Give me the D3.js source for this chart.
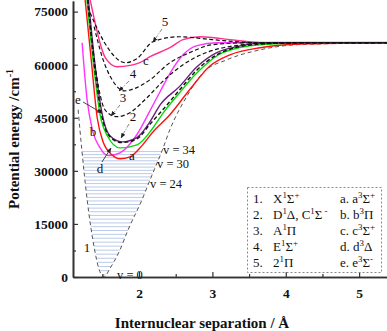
<!DOCTYPE html>
<html>
<head>
<meta charset="utf-8">
<script src="https://cdn.jsdelivr.net/npm/d3@7"></script>
<style>
body{margin:0;background:#fff}
svg{display:block}
text{font-family:"Liberation Serif","Times New Roman",serif}
</style>
</head>
<body>
<svg id="chart" width="387" height="331"></svg>
<script>
"use strict";
// potential energy curves, [r (Å), E (cm-1)]
const stateX = [[1.17,47260],[1.22,36000],[1.293,21800],[1.395,7640],[1.45,2500],[1.525,0],[1.60,2300],[1.74,7640],[1.85,13300],[2.04,21800],[2.15,27450],[2.32,36000],[2.42,41600],[2.65,51000],[2.87,57700],[3.20,61400],[3.65,64200],[4.2,65700],[5.4,66200]];
const state2 = [[1.30,78400],[1.39,60000],[1.49,45800],[1.60,39700],[1.76,38000],[1.97,39000],[2.15,43200],[2.33,47400],[2.55,52800],[2.79,58500],[3.06,62800],[3.33,64900],[3.8,66000],[4.5,66200],[5.4,66200]];
const state3 = [[1.30,78400],[1.40,60000],[1.50,49000],[1.58,46300],[1.70,45300],[1.88,46500],[2.10,50500],[2.35,55800],[2.60,60000],[2.90,63300],[3.25,65200],[3.8,66100],[5.4,66200]];
const state4 = [[1.388,70750],[1.497,62260],[1.633,55750],[1.80,52600],[1.93,53200],[2.15,55750],[2.42,60560],[2.69,63400],[3.0,65650],[3.5,66200],[5.4,66200]];
const state5 = [[1.333,74700],[1.456,69050],[1.592,64240],[1.81,60560],[1.97,61700],[2.19,66500],[2.55,67900],[3.0,67070],[3.65,66200],[5.4,66200]];
const stateA = [[1.265,78400],[1.35,61000],[1.43,45000],[1.51,38200],[1.633,34500],[1.741,33400],[1.878,33960],[2.014,36500],[2.19,41000],[2.42,45850],[2.70,53200],[2.97,59700],[3.24,62800],[3.65,64800],[4.3,65900],[5.4,66200]];
const stateB = [[1.29,78400],[1.38,60000],[1.47,45800],[1.565,40000],[1.741,36500],[1.973,37360],[2.15,41000],[2.33,46400],[2.55,52000],[2.79,57700],[3.14,63400],[3.65,65650],[4.3,66100],[5.4,66200]];
const stateC = [[1.333,78400],[1.40,72000],[1.47,66000],[1.54,62000],[1.70,59430],[1.88,59800],[2.01,60560],[2.15,62260],[2.42,64800],[2.60,67070],[2.83,67900],[3.03,67600],[3.24,67070],[3.65,66300],[5.4,66300]];
const stateD = [[1.224,66200],[1.29,50500],[1.36,42000],[1.47,36500],[1.578,34300],[1.74,35100],[1.97,40200],[2.15,47000],[2.29,52500],[2.42,57500],[2.60,62800],[2.79,65400],[3.06,66200],[5.4,66200]];
const stateE = [[1.31,78400],[1.40,60000],[1.50,45800],[1.60,40000],[1.77,38200],[1.97,39400],[2.15,43900],[2.29,48700],[2.55,53800],[2.79,59400],[3.06,63400],[3.33,65100],[3.65,66100],[4.3,66200],[5.4,66200]];
// vibrational levels of X, v = 0..34
const vibLevels = [599,1789,2969,4139,5299,6449,7589,8719,9839,10949,12049,13139,14219,15289,16349,17399,18439,19469,20489,21499,22499,23489,24469,25439,26399,27349,28289,29219,30139,31049,31949,32839,33719,34589,35449];

const xTicks = [2,3,4,5];
const yTicks = [0,15000,30000,45000,60000,75000];

const legendLeft = [
  ["1.", [["X"],["1",1],["Σ"],["+",1]]],
  ["2.", [["D"],["1",1],["Δ, C"],["1",1],["Σ"],[" -",1]]],
  ["3.", [["A"],["1",1],["Π"]]],
  ["4.", [["E"],["1",1],["Σ"],["+",1]]],
  ["5.", [["2"],["1",1],["Π"]]]
];
const legendRight = [
  [["a. a"],["3",1],["Σ"],["+",1]],
  [["b. b"],["3",1],["Π"]],
  [["c. c"],["3",1],["Σ"],["+",1]],
  [["d. d"],["3",1],["Δ"]],
  [["e. e"],["3",1],["Σ"],["-",1]]
];

const svg = d3.select("#chart");
const mLeft = 73, mRight = 387, mTop = 1, mBottom = 277;

const x = d3.scaleLinear().domain([1.1,5.38]).range([mLeft,mRight]);
const y = d3.scaleLinear().domain([0,78000]).range([mBottom,mTop]);

const defs = svg.append("defs");
defs.append("clipPath").attr("id","plot")
  .append("rect").attr("x",mLeft).attr("y",0).attr("width",mRight-mLeft).attr("height",mBottom);
defs.append("marker").attr("id","arr")
  .attr("viewBox","0 0 10 10").attr("refX",9).attr("refY",5)
  .attr("markerWidth",6).attr("markerHeight",6).attr("orient","auto")
  .append("path").attr("d","M0,1L10,5L0,9z").attr("fill","#222");

const plot = svg.append("g").attr("clip-path","url(#plot)");

// turning points of X for each level
function crossing(pts, e, side){
  let i0 = d3.minIndex(pts, d => d[1]);
  if(side < 0){
    for(let i = i0; i > 0; i--){
      let a = pts[i], b = pts[i-1];
      if(b[1] >= e) return a[0] + (b[0]-a[0])*(e-a[1])/(b[1]-a[1]);
    }
  } else {
    for(let i = i0; i < pts.length-1; i++){
      let a = pts[i], b = pts[i+1];
      if(b[1] >= e) return a[0] + (b[0]-a[0])*(e-a[1])/(b[1]-a[1]);
    }
  }
  return pts[i0][0];
}

plot.selectAll("line.vib").data(vibLevels).enter().append("line")
  .attr("class","vib")
  .attr("x1", d => x(crossing(stateX,d,-1)))
  .attr("x2", d => x(crossing(stateX,d,1)))
  .attr("y1", d => y(d)).attr("y2", d => y(d))
  .attr("stroke","#bccbe8").attr("stroke-width",1);

const line = d3.line().x(d => x(d[0])).y(d => y(d[1])).curve(d3.curveMonotoneX);

function drawCurve(pts, color, width, dash){
  plot.append("path").datum(pts)
    .attr("d", line)
    .attr("fill","none")
    .attr("stroke", color)
    .attr("stroke-width", width)
    .attr("stroke-dasharray", dash);
}

drawCurve(stateX, "#555", 1, "4,3");
drawCurve(stateC, "#ff2f8e", 1.4, null);
drawCurve(stateD, "#ff33ff", 1.4, null);
drawCurve(stateA, "#ff1010", 1.4, null);
drawCurve(stateB, "#00dd00", 1.4, null);
drawCurve(stateE, "#6b1f7a", 1.4, null);
drawCurve(state5, "#111", 1.2, "4,2.5");
drawCurve(state4, "#111", 1.2, "4,2.5");
drawCurve(state3, "#111", 1.2, "4,2.5");
drawCurve(state2, "#111", 1.4, "4,2.5");

// axes
const xAxis = d3.axisBottom(x).tickValues(xTicks).tickSize(-5).tickSizeOuter(0).tickPadding(11).tickFormat(d3.format("d"));
const xMinor = d3.axisBottom(x).tickValues([1.5,2.5,3.5,4.5]).tickSize(-3).tickSizeOuter(0).tickFormat("");
const yAxis = d3.axisLeft(y).tickValues(yTicks).tickSize(-5).tickSizeOuter(0).tickPadding(5).tickFormat(d3.format("d"));
const yMinor = d3.axisLeft(y).tickValues([7500,22500,37500,52500,67500]).tickSize(-3).tickSizeOuter(0).tickFormat("");

function styleAxis(g){
  g.select(".domain").attr("stroke","#333").attr("stroke-width",1.6);
  g.selectAll(".tick line").attr("stroke","#333").attr("stroke-width",1.2);
  g.selectAll("text").attr("font-family","Liberation Serif, serif").attr("font-weight","bold").attr("font-size",13.5).attr("fill","#111");
}
svg.append("g").attr("transform","translate(0,"+mBottom+")").call(xMinor).call(styleAxis);
svg.append("g").attr("transform","translate(0,"+mBottom+")").call(xAxis).call(styleAxis);
svg.append("g").attr("transform","translate("+mLeft+",0)").call(yMinor).call(styleAxis);
svg.append("g").attr("transform","translate("+mLeft+",0)").call(yAxis).call(styleAxis);

// axis titles
svg.append("text").attr("x",202).attr("y",328).attr("text-anchor","middle")
  .attr("font-weight","bold").attr("font-size",15).attr("fill","#111")
  .text("Internuclear separation / Å");
let yt = svg.append("text").attr("transform","translate(19,139) rotate(-90)")
  .attr("text-anchor","middle").attr("font-weight","bold").attr("font-size",15).attr("fill","#111");
yt.append("tspan").text("Potential energy /cm");
yt.append("tspan").attr("dy",-6).attr("font-size",10).text("-1");

// rich text with superscripts
function richText(sel, px, py, parts, size){
  let t = sel.append("text").attr("x",px).attr("y",py).attr("font-size",size).attr("fill","#111");
  let up = false;
  parts.forEach(p => {
    let ts = t.append("tspan").text(p[0]);
    if(p[1]){
      ts.attr("font-size",size*0.68);
      if(!up){ ts.attr("dy",-5); up = true; }
    } else if(up){ ts.attr("dy",5); up = false; }
  });
  return t;
}

// legend
svg.append("rect").attr("x",247.5).attr("y",187.5).attr("width",134).attr("height",85)
  .attr("fill","none").attr("stroke","#888").attr("stroke-width",1).attr("stroke-dasharray","2,2");
legendLeft.forEach((d,i) => {
  svg.append("text").attr("x",253).attr("y",203+i*16).attr("font-size",13).attr("fill","#111").text(d[0]);
  richText(svg, 273, 203+i*16, d[1], 13);
});
legendRight.forEach((d,i) => {
  richText(svg, 340, 203+i*16, d, 13);
});

// curve labels
const lbl = (px,py,s) => svg.append("text").attr("x",px).attr("y",py).attr("font-size",13).attr("text-anchor","middle").attr("fill","#111").text(s);
lbl(165,26,"5"); lbl(133,78,"4"); lbl(123,102,"3"); lbl(133,121,"2"); lbl(87,252,"1");
lbl(132,160,"a"); lbl(93,136,"b"); lbl(146,65,"c"); lbl(100,173,"d"); lbl(78,104,"e");

function leader(x1,y1,x2,y2,dash,color){
  svg.append("line").attr("x1",x1).attr("y1",y1).attr("x2",x2).attr("y2",y2)
    .attr("stroke",color).attr("stroke-width",0.9)
    .attr("stroke-dasharray",dash).attr("marker-end","url(#arr)");
}
leader(162,29,153,42,"4,1.5,1,1.5","#777");
leader(129,81,119,91,"4,1.5,1,1.5","#777");
leader(120,105,111,116,"4,1.5,1,1.5","#777");
leader(129,124,121,138,"4,1.5,1,1.5","#777");
leader(83,102,102,113,null,"#333");
leader(102,162,111,148,null,"#333");

// vibrational labels
const vl = (px,py,s) => svg.append("text").attr("x",px).attr("y",py).attr("font-size",12.5).attr("fill","#111").text(s);
vl(163,154,"v = 34"); vl(157,168,"v = 30"); vl(150,188,"v = 24"); vl(117,279,"v = 0");
</script>
</body>
</html>
